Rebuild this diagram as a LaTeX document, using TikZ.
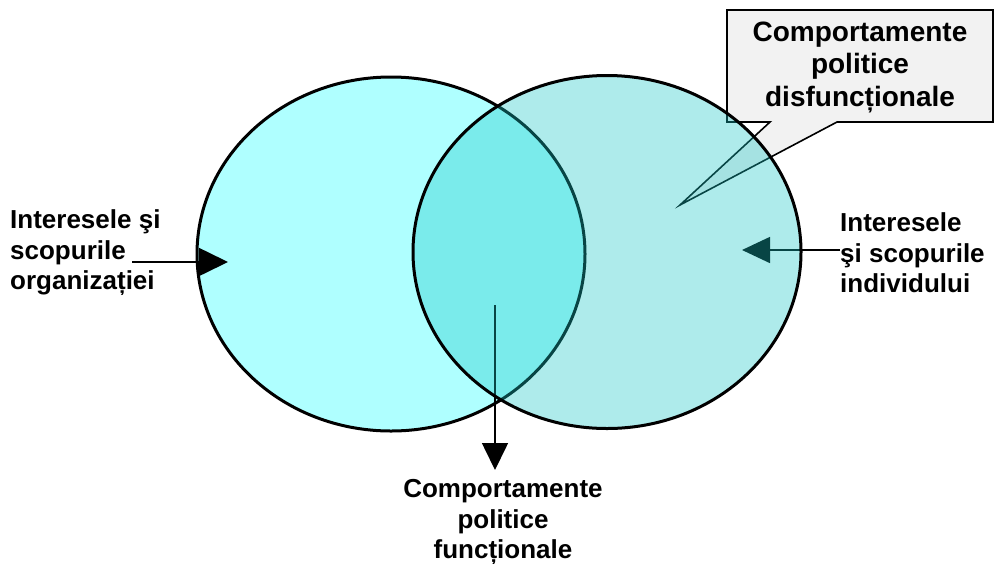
\documentclass[tikz,border=0pt]{standalone}
\usepackage{fontspec}
\setmainfont{Liberation Sans}
\usetikzlibrary{arrows.meta}
\definecolor{leftfill}{RGB}{175,255,255}
\definecolor{rightfill}{RGB}{24,198,198}
\definecolor{boxfill}{RGB}{242,242,242}
\tikzset{
  lbl/.style={font=\bfseries\fontsize{26}{30.5}\selectfont, inner sep=0pt},
  calltext/.style={font=\bfseries\fontsize{28}{32.5}\selectfont, inner sep=0pt, align=center},
  conn/.style={draw=black, line width=1.6pt, -{Triangle[length=29pt,width=28pt]}},
  ring/.style={draw=black, line width=3pt},
}
\begin{document}
\begin{tikzpicture}[x=1pt,y=-1pt]
\useasboundingbox (0,0) rectangle (995,566);
% left ellipse
\path[ring, fill=leftfill] (391,254) ellipse [x radius=194pt, y radius=177pt];
% callout
\path[draw=black, line width=1.6pt, fill=boxfill, line join=miter]
  (727,10) -- (993,10) -- (993,122) -- (837,122) -- (680,205) -- (770,122) -- (727,122) -- cycle;
\node[calltext] (callout) at (860,67) {Comportamente\\politice\\disfuncționale};
% labels
\node[lbl, align=left, anchor=west] (org) at (10,253) {Interesele şi\\scopurile\\organizației};
\node[lbl, align=left, anchor=west] (ind) at (840,253) {Interesele\\şi scopurile\\individului};
\node[lbl, align=center] (func) at (503,522) {Comportamente\\politice\\funcționale};
% connectors
\coordinate (orgEnd) at (132,262);
\coordinate (orgTip) at (228,262);
\coordinate (indEnd) at (840,250);
\coordinate (indTip) at (742,250);
\coordinate (funcStart) at (495,305);
\coordinate (funcTip) at (495,470);
\draw[conn] (orgEnd) -- (orgTip);
\draw[conn, -{Triangle[length=28pt,width=26pt]}] (indEnd) -- (indTip);
\draw[conn, -{Triangle[length=27pt,width=26pt]}] (funcStart) -- (funcTip);
% right ellipse, translucent
\path[fill=rightfill, fill opacity=0.35] (607,252) ellipse [x radius=194pt, y radius=176.5pt];
\path[ring] (607,252) ellipse [x radius=194pt, y radius=176.5pt];
\end{tikzpicture}
\end{document}
